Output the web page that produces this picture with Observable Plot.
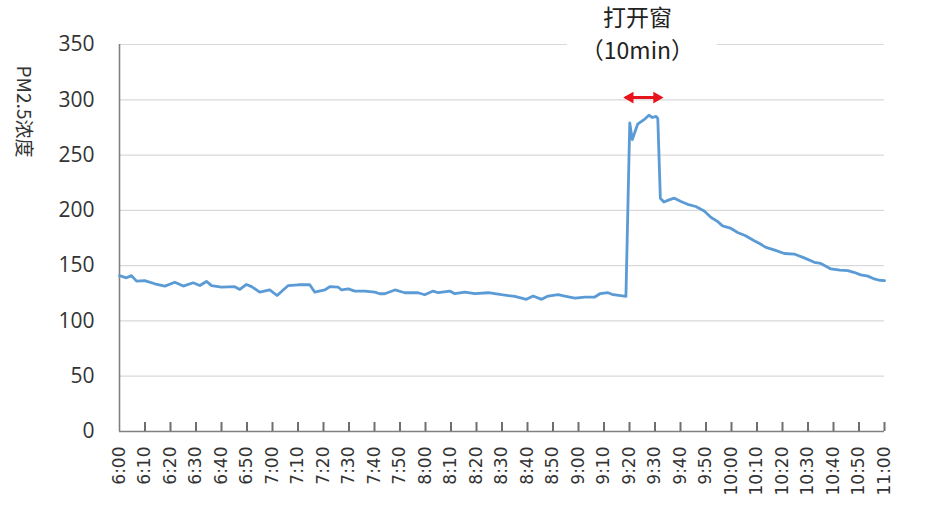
<!DOCTYPE html>
<html>
<head>
<meta charset="utf-8">
<script src="https://cdn.jsdelivr.net/npm/d3@7"></script>
<script src="https://cdn.jsdelivr.net/npm/@observablehq/plot@0.6"></script>
<style>
  html, body { margin: 0; padding: 0; background: #fff; }
  #chart { width: 934px; height: 514px; }
</style>
</head>
<body>
<div id="chart"></div>
<script>
// Minutes after 6:00 and PM2.5 readings
const minutes = [
  0, 2.7, 4.7, 6.7, 9.9, 13.8, 17.8, 21.7, 25, 28.9, 31.5, 34.1, 36.1, 40, 45.2, 47.2,
  49.8, 51.8, 55, 58.9, 61.8, 64.2, 66.2, 70.1, 74.6, 76.6, 80.5, 82.5, 85.8, 87.1, 89.7,
  92.3, 96.2, 100.1, 102.1, 104, 108, 111.9, 117.1, 119.7, 123, 125, 129.5, 131.5, 135.4,
  139.3, 144.6, 149.8, 155, 159.6, 162.2, 165.5, 168.1, 172, 174.6, 178.6, 182.5, 186.4,
  188.4, 191.6, 193.6, 198.6,
  200.1, 201.1, 202.3, 203.2, 205.7, 207.6, 209, 210.4, 211.1, 212.1,
  213.5, 215.5, 217.6, 220.2, 222.8, 226, 229.3, 232, 234.5, 236.5, 239.5, 242.4, 245.5,
  248.9, 251, 253.5, 257, 260.7, 264.6, 268.5, 272.5, 275, 279, 282.5,
  285.6, 288, 290.7, 293.5, 296, 298, 300
];
const pm25 = [
  141, 139, 141, 136, 136.5, 133.6, 131.5, 135, 131.5, 134.5, 132, 135.7, 132, 130.5, 131, 128.5,
  133, 131, 126, 128, 123, 128, 132, 132.7, 132.7, 126, 128, 131, 130.5, 128, 129,
  127, 127, 126, 124.6, 124.6, 128, 125.5, 125.5, 123.7, 127, 125.5, 127, 124.6, 126,
  124.6, 125.5, 123.7, 122.2, 119.5, 122.5, 119.5, 122.5, 123.7, 122.5, 120.7, 121.6, 121.6,
  124.6, 125.5, 123.7, 122.2,
  279, 264, 272, 278, 282, 286, 284, 285, 283, 211,
  207.5, 209.5, 211, 208, 205.5, 203.5, 199.5, 193.5, 190, 186, 184, 180, 177,
  172.5, 170, 166.5, 164, 161, 160.5, 157, 153, 152, 147, 146,
  145.5, 144, 141.7, 140.5, 138, 136.8, 136.5
];

// Axis ticks and labels
const tickMinutes = [0,10,20,30,40,50,60,70,80,90,100,110,120,130,140,150,160,170,180,190,200,210,220,230,240,250,260,270,280,290,300];
const tickLabels = ["6:00","6:10","6:20","6:30","6:40","6:50","7:00","7:10","7:20","7:30","7:40","7:50","8:00","8:10","8:20","8:30","8:40","8:50","9:00","9:10","9:20","9:30","9:40","9:50","10:00","10:10","10:20","10:30","10:40","10:50","11:00"];
const yTicks = [0, 50, 100, 150, 200, 250, 300, 350];

// Texts
const yTitle = "PM2.5浓度";
const noteLines = ["打开窗", "（10min）"];

// Window-open interval (minutes after 6:00) and the level of its arrow
const windowOpen = {start: 197.6, end: 213.3, level: 302};
// Annotation anchor in data units
const noteAt = {x: 203.1, y1: 373.4, y2: 343.6, boxX1: 175.7, boxX2: 234.5, boxY1: 334, boxY2: 390};

const series = minutes.map((m, i) => ({m, v: pm25[i]}));
const notes = [
  {x: noteAt.x, y: noteAt.y1, t: noteLines[0]},
  {x: noteAt.x, y: noteAt.y2, t: noteLines[1]}
];
const red = "#e8141b";
const axisGray = "#808080";
const W = 934, H = 514, mTop = 44, mBottom = 83, tickLen = 9;

const chart = Plot.plot({
  width: W,
  height: H,
  marginLeft: 119,
  marginRight: 50,
  marginTop: mTop,
  marginBottom: mBottom,
  x: {domain: [0, 300]},
  y: {domain: [0, 350]},
  style: {background: "#fff", fontFamily: "Open Sans, sans-serif", overflow: "visible"},
  marks: [
    Plot.gridY(yTicks.filter(d => d > 0), {stroke: "#d9d9d9", strokeOpacity: 1, strokeWidth: 1.2}),
    Plot.rect([noteAt], {x1: "boxX1", x2: "boxX2", y1: "boxY1", y2: "boxY2", fill: "#fff"}),
    Plot.ruleX([0], {y1: 0, y2: 350, stroke: axisGray, strokeWidth: 1.6}),
    Plot.ruleY([0], {stroke: axisGray, strokeWidth: 1.6}),
    // inward tick marks on the time axis
    Plot.tickX(tickMinutes.slice(1), {x: d => d, insetTop: H - mTop - mBottom - tickLen, stroke: "#6e6e6e", strokeWidth: 2, strokeOpacity: 1}),
    Plot.axisY(yTicks, {tickSize: 0, tickPadding: 25, fontSize: 21, fill: "#333", label: null}),
    Plot.axisX(tickMinutes, {
      tickSize: 0, tickPadding: 15, tickRotate: -90, stroke: "none",
      tickFormat: d => tickLabels[tickMinutes.indexOf(d)],
      fontSize: 17, fontFamily: "DejaVu Sans", fill: "#333", label: null
    }),
    Plot.line(series, {x: "m", y: "v", stroke: "#5b9bd5", strokeWidth: 2.8, strokeLinejoin: "round"}),
    // double-headed red arrow
    Plot.ruleY([windowOpen], {x1: d => d.start + 1, x2: d => d.end - 1, y: "level", stroke: red, strokeWidth: 3}),
    Plot.dot([windowOpen], {x: "end", y: "level", symbol: "triangle", r: 4.4, rotate: 90, dx: -6.7, fill: red, stroke: "none"}),
    Plot.dot([windowOpen], {x: "start", y: "level", symbol: "triangle", r: 4.4, rotate: -90, dx: 6.7, fill: red, stroke: "none"}),
    // annotation text
    Plot.text(notes, {x: "x", y: "y", text: "t", fontSize: 23, fontFamily: "Noto Sans CJK SC", fill: "#222", textAnchor: "middle", lineAnchor: "middle"}),
    // y title (reads top to bottom)
    Plot.text([yTitle], {frameAnchor: "top-left", dx: -96, dy: 67, rotate: 90, fontSize: 19, fontFamily: "Noto Sans CJK SC", fill: "#333", textAnchor: "middle", lineAnchor: "middle"})
  ]
});
document.getElementById("chart").append(chart);
</script>
</body>
</html>
